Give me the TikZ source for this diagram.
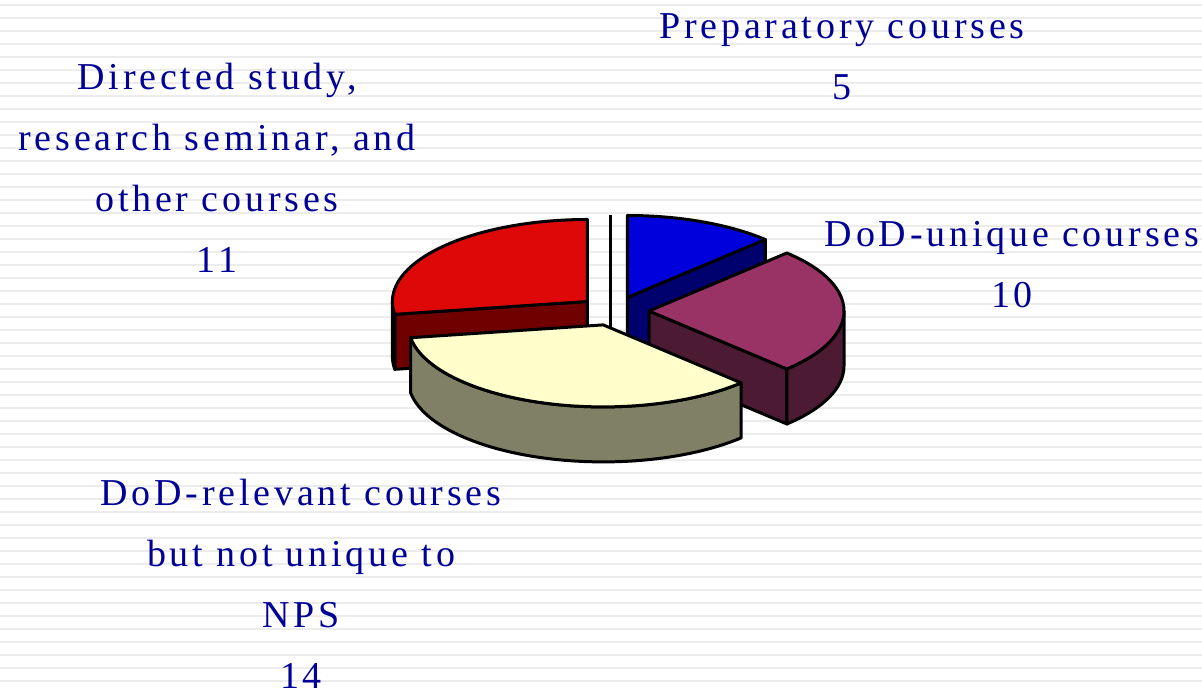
\documentclass[tikz,border=0pt]{standalone}
\usepackage{fontspec}
\newfontfamily\labelfont[LetterSpace=10]{Liberation Serif}
\usepackage{tikz}

\definecolor{labelblue}{RGB}{0,0,150}
\definecolor{stripegray}{RGB}{236,236,236}
\definecolor{prepTop}{RGB}{0,0,220}
\definecolor{prepSide}{RGB}{0,0,110}
\definecolor{direcTop}{RGB}{222,8,8}
\definecolor{direcSide}{RGB}{112,0,0}
\definecolor{uniqTop}{RGB}{153,51,102}
\definecolor{uniqSide}{RGB}{77,26,51}
\definecolor{relevTop}{RGB}{255,255,204}
\definecolor{relevSide}{RGB}{128,128,102}

\begin{document}
\begin{tikzpicture}[x=1pt,y=1pt,
    slice/.style={draw=black,line width=3pt,line join=round},
    rim/.style={x radius=195,y radius=82},
    stripe/.style={stripegray,line width=2pt},
    lbl/.style={font=\labelfont\fontsize{38}{61}\selectfont,text=labelblue,align=center,inner sep=0pt}]
          \useasboundingbox (0,0) rectangle (1202,690);

          % Striped background
          \fill[white] (0,0) rectangle (1202,690);
          \foreach \k in {0,...,52}
            \draw[stripe] (0,684.5-13*\k) -- (1202,684.5-13*\k);

          % Slice tips
          \coordinate (prep) at (627.4,392.5);
          \coordinate (uniq) at (649,379);
          \coordinate (relev) at (603.2,365.1);
          \coordinate (direc) at (587.4,388.5);

          % Preparatory courses (blue)
          \filldraw[slice,fill=prepSide] (prep) -- ++(0,-55) -- ++(45:195 and 82) -- ++(0,55) -- cycle;
          \filldraw[slice,fill=prepTop] (prep) -- ++(45:195 and 82)
            arc[rim,start angle=45,end angle=90] -- cycle;

          % Directed study etc. (red)
          \filldraw[slice,fill=direcSide] (direc) -- ++(0,-55) -- ++(189:195 and 82) -- ++(0,55) -- cycle;
          \filldraw[slice,fill=direcSide] (direc) ++(180:195 and 82)
            arc[rim,start angle=180,end angle=189] -- ++(0,-55)
            arc[rim,start angle=189,end angle=180] -- cycle;
          \filldraw[slice,fill=direcTop] (direc) -- ++(90:195 and 82)
            arc[rim,start angle=90,end angle=189] -- cycle;

          % Gap edge
          \draw[line width=3pt] (610,475) -- (610,362);

          % DoD-unique courses (purple)
          \filldraw[slice,fill=uniqSide] (uniq) -- ++(0,-55) -- ++(-45:195 and 82) -- ++(0,55) -- cycle;
          \filldraw[slice,fill=uniqSide] (uniq) ++(-45:195 and 82)
            arc[rim,start angle=-45,end angle=0] -- ++(0,-55)
            arc[rim,start angle=0,end angle=-45] -- cycle;
          \filldraw[slice,fill=uniqTop] (uniq) -- ++(-45:195 and 82)
            arc[rim,start angle=-45,end angle=45] -- cycle;

          % DoD-relevant courses (yellow)
          \filldraw[slice,fill=relevSide] (relev) ++(189:195 and 82)
            arc[rim,start angle=189,end angle=315] -- ++(0,-55)
            arc[rim,start angle=315,end angle=189] -- cycle;
          \filldraw[slice,fill=relevTop] (relev) -- ++(189:195 and 82)
            arc[rim,start angle=189,end angle=315] -- cycle;

          % Labels
          \node[lbl] (prepLbl) at (842,633) {Preparatory courses\\5};
          \node[lbl] (direcLbl) at (217,522) {Directed study,\\research seminar, and\\other courses\\11};
          \node[lbl] (uniqLbl) at (1012,425) {DoD-unique courses\\10};
          \node[lbl] (relevLbl) at (301,106.5) {DoD-relevant courses\\but not unique to\\NPS\\14};
        \end{tikzpicture}
\end{document}
